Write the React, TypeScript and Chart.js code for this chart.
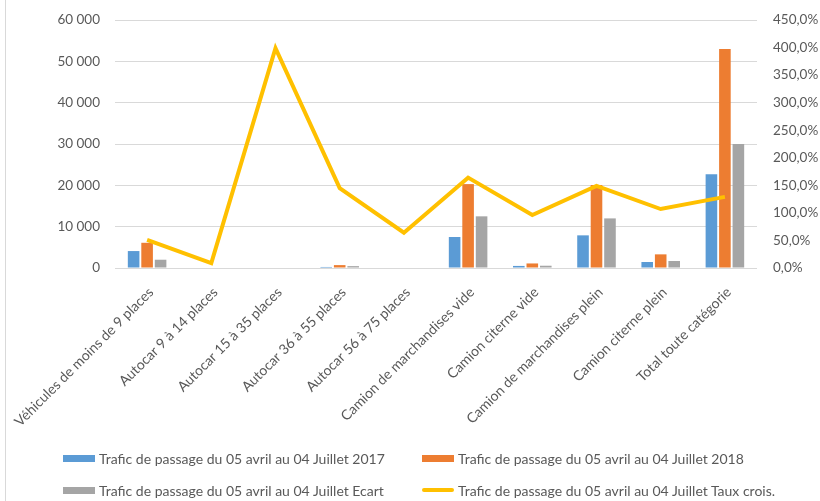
import React, { useEffect, useRef } from "react";
import { Chart, registerables } from "chart.js";

Chart.register(...registerables);

const categories = [
  "Véhicules de moins de 9 places",
  "Autocar 9 à 14 places",
  "Autocar 15 à 35 places",
  "Autocar 36 à 55 places",
  "Autocar 56 à 75 places",
  "Camion de marchandises vide",
  "Camion citerne vide",
  "Camion de marchandises plein",
  "Camion citerne plein",
  "Total toute catégorie",
];

const trafic2017 = [4100, 0, 0, 250, 0, 7500, 500, 7900, 1450, 22700];
const trafic2018 = [6100, 0, 0, 700, 0, 20300, 1100, 20100, 3300, 53000];
const ecart = [2000, 0, 0, 450, 0, 12500, 550, 12000, 1700, 30000];
const tauxCrois = [51, 9, 399, 145, 64, 164, 96, 149, 107, 129];

const seriesLabels = [
  "Trafic de passage du 05 avril au 04 Juillet 2017",
  "Trafic de passage du 05 avril au 04 Juillet 2018",
  "Trafic de passage du 05 avril au 04 Juillet Ecart",
  "Trafic de passage du 05 avril au 04 Juillet Taux crois.",
];

const BLUE = "#5B9BD5";
const ORANGE = "#ED7D31";
const GRAY = "#A5A5A5";
const YELLOW = "#FFC000";
const TEXT = "#595959";
const FONT = "Lato, 'Liberation Sans', sans-serif";

export default function App() {
  const canvasRef = useRef<HTMLCanvasElement | null>(null);

  useEffect(() => {
    if (!canvasRef.current) return;
    const barCommon = {
      type: "bar",
      yAxisID: "y",
      order: 1,
      categoryPercentage: 0.63,
      barPercentage: 0.86,
      inflateAmount: 0,
      borderWidth: 0,
    };
    const chart = new Chart(canvasRef.current, {
      type: "bar",
      data: {
        labels: categories,
        datasets: [
          { ...barCommon, label: seriesLabels[0], data: trafic2017, backgroundColor: BLUE } as any,
          { ...barCommon, label: seriesLabels[1], data: trafic2018, backgroundColor: ORANGE } as any,
          { ...barCommon, label: seriesLabels[2], data: ecart, backgroundColor: GRAY } as any,
          {
            type: "line",
            label: seriesLabels[3],
            data: tauxCrois,
            borderColor: YELLOW,
            backgroundColor: YELLOW,
            borderWidth: 4,
            pointRadius: 0,
            tension: 0,
            yAxisID: "y1",
            order: 0,
          } as any,
        ],
      },
      options: {
        responsive: false,
        animation: false,
        layout: { padding: { top: 20, left: 0, right: 0, bottom: 0 } },
        plugins: {
          legend: { display: false },
          tooltip: { enabled: false },
        },
        scales: {
          x: {
            grid: { display: false, drawTicks: false },
            border: { display: false },
            ticks: {
              autoSkip: false,
              maxRotation: 45,
              minRotation: 45,
              padding: 16,
              labelOffset: 4,
              color: TEXT,
              font: { family: FONT, size: 14 },
            },
            afterFit: (s: any) => {
              s.height = 233;
              s.paddingLeft = 0;
              s.paddingRight = 0;
            },
          },
          y: {
            position: "left",
            min: 0,
            max: 60000,
            grid: { color: "#D9D9D9", drawTicks: false },
            border: { display: false },
            ticks: {
              stepSize: 10000,
              padding: 15,
              color: TEXT,
              font: { family: FONT, size: 13.5 },
              callback: (v: any) =>
                Number(v) === 0 ? "0" : String(Number(v)).replace(/(\d+)(\d{3})$/, "$1\u202F$2"),
            },
            afterFit: (s: any) => {
              s.width = 115;
              s.paddingTop = 0;
              s.paddingBottom = 0;
            },
          },
          y1: {
            position: "right",
            min: 0,
            max: 450,
            grid: { display: false, drawTicks: false },
            border: { display: false },
            ticks: {
              stepSize: 50,
              padding: 16,
              color: TEXT,
              font: { family: FONT, size: 13.5 },
              callback: (v: any) => Number(v).toFixed(1).replace(".", ",") + "%",
            },
            afterFit: (s: any) => {
              s.width = 63;
              s.paddingTop = 0;
              s.paddingBottom = 0;
            },
          },
        },
      },
    });
    return () => chart.destroy();
  }, []);

  const legendItem = (i: number, color: string, left: number, top: number, isLine: boolean) => (
    <div
      key={i}
      style={{
        position: "absolute",
        left,
        top,
        height: 20,
        display: "flex",
        alignItems: "center",
        whiteSpace: "nowrap",
        fontFamily: FONT,
        fontSize: 14,
        color: TEXT,
      }}
    >
      <span
        style={{
          display: "inline-block",
          width: 32,
          height: isLine ? 4 : 7,
          borderRadius: isLine ? 2 : 0,
          background: color,
          marginRight: 4,
        }}
      />
      <span>{seriesLabels[i]}</span>
    </div>
  );

  return (
    <div
      style={{
        position: "fixed",
        left: 0,
        top: 0,
        width: 820,
        height: 501,
        background: "#fff",
        overflow: "hidden",
      }}
    >
      <canvas ref={canvasRef} width={820} height={501} style={{ display: "block" }} />
      <div style={{ position: "absolute", left: 5, top: 0, width: 1, height: 501, background: "#D9D9D9" }} />
      {legendItem(0, BLUE, 63, 448, false)}
      {legendItem(1, ORANGE, 422, 448, false)}
      {legendItem(2, GRAY, 63, 480, false)}
      {legendItem(3, YELLOW, 422, 480, true)}
    </div>
  );
}
